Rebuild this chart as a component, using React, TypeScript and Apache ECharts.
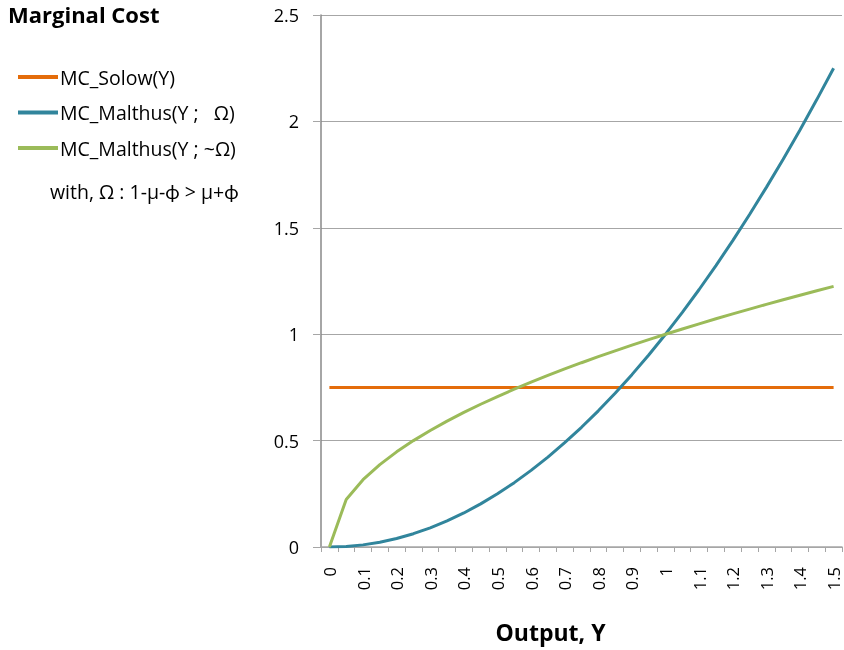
import React, { useEffect, useRef } from "react";
import * as echarts from "echarts";

const categories = ["0","0.05","0.1","0.15","0.2","0.25","0.3","0.35","0.4","0.45","0.5","0.55","0.6","0.65","0.7","0.75","0.8","0.85","0.9","0.95","1","1.05","1.1","1.15","1.2","1.25","1.3","1.35","1.4","1.45","1.5"];
const mcSolow = [0.75,0.75,0.75,0.75,0.75,0.75,0.75,0.75,0.75,0.75,0.75,0.75,0.75,0.75,0.75,0.75,0.75,0.75,0.75,0.75,0.75,0.75,0.75,0.75,0.75,0.75,0.75,0.75,0.75,0.75,0.75];
const mcMalthusOmega = [0,0.0025,0.01,0.0225,0.04,0.0625,0.09,0.1225,0.16,0.2025,0.25,0.3025,0.36,0.4225,0.49,0.5625,0.64,0.7225,0.81,0.9025,1,1.1025,1.21,1.3225,1.44,1.5625,1.69,1.8225,1.96,2.1025,2.25];
const mcMalthusNotOmega = [0,0.2236,0.3162,0.3873,0.4472,0.5,0.5477,0.5916,0.6325,0.6708,0.7071,0.7416,0.7746,0.8062,0.8367,0.866,0.8944,0.922,0.9487,0.9747,1,1.0247,1.0488,1.0724,1.0954,1.118,1.1402,1.1619,1.1832,1.2042,1.2247];
const seriesNames = ["MC_Solow(Y)", "MC_Malthus(Y ;   Ω)", "MC_Malthus(Y ; ~Ω)"];
const colors = ["#E46C0A", "#31859C", "#9BBB59"];

const FONT = "'Open Sans', Lato, sans-serif";

export default function App() {
  const ref = useRef<HTMLDivElement>(null);
  useEffect(() => {
    if (!ref.current) return;
    const chart = echarts.init(ref.current, null, { renderer: "svg" });
    const grey = "#A6A6A6";
    chart.setOption({
      animation: false,
      textStyle: { fontFamily: FONT },
      title: {
        text: "Marginal Cost",
        left: 8,
        top: 3,
        padding: 0,
        textStyle: { fontFamily: FONT, fontSize: 22, fontWeight: "bold", color: "#000" },
      },
      legend: {
        orient: "vertical",
        left: 18,
        top: 67,
        padding: 0,
        itemWidth: 40,
        itemHeight: 4,
        itemGap: 15.5,
        icon: "rect",
        textStyle: { fontFamily: FONT, fontSize: 19.5, lineHeight: 20, color: "#000", padding: [0, 0, 0, -3] },
        data: seriesNames,
      },
      graphic: [
        {
          type: "text",
          left: 50,
          top: 181,
          style: { text: "with, Ω : 1-μ-ϕ > μ+ϕ", font: `19.5px ${FONT}`, fill: "#000" },
        },
      ],
      grid: { left: 321, right: 2, top: 15, bottom: 103, containLabel: false },
      xAxis: {
        type: "category",
        data: categories,
        boundaryGap: true,
        name: "Output, Y",
        nameLocation: "middle",
        nameGap: 73,
        nameTextStyle: { fontFamily: FONT, fontSize: 23, fontWeight: "bold", color: "#000", padding: [0, 62, 0, 0] },
        axisLine: { lineStyle: { color: grey, width: 1.5 } },
        axisTick: { show: true, interval: 0, length: 5, lineStyle: { color: grey } },
        axisLabel: {
          interval: 1,
          rotate: 90,
          margin: 20,
          fontSize: 16.5,
          lineHeight: 15,
          color: "#000",
          fontFamily: FONT,
        },
        splitLine: { show: false },
      },
      yAxis: {
        type: "value",
        min: 0,
        max: 2.5,
        interval: 0.5,
        axisLine: { show: true, lineStyle: { color: "#888", width: 1.5 } },
        axisTick: { show: true, length: 8, lineStyle: { color: grey } },
        axisLabel: { margin: 22, fontSize: 18, color: "#000", fontFamily: FONT },
        splitLine: { show: true, lineStyle: { color: grey, width: 1.2 } },
      },
      series: [
        { name: seriesNames[0], type: "line", data: mcSolow, symbol: "none", lineStyle: { width: 3, color: colors[0] }, itemStyle: { color: colors[0] } },
        { name: seriesNames[1], type: "line", data: mcMalthusOmega, symbol: "none", lineStyle: { width: 3, color: colors[1] }, itemStyle: { color: colors[1] } },
        { name: seriesNames[2], type: "line", data: mcMalthusNotOmega, symbol: "none", lineStyle: { width: 3, color: colors[2] }, itemStyle: { color: colors[2] } },
      ],
    });
    return () => chart.dispose();
  }, []);
  return <div ref={ref} style={{ position: "fixed", left: 0, top: 0, width: 844, height: 650 }} />;
}
